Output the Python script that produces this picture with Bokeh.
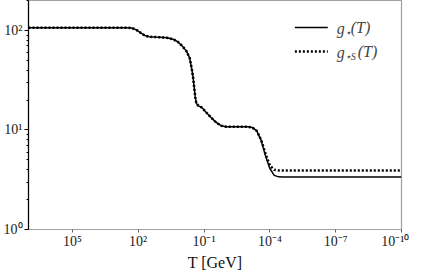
import numpy as np
from bokeh.plotting import figure
from bokeh.models import Range1d, FixedTicker, CustomJSTickFormatter, Label, Title
from bokeh.embed import file_html
from bokeh.resources import INLINE

# ---- data ----
log10_T = [7.0, 3.0, 2.6, 2.3, 2.1, 1.9, 1.7, 1.5, 1.3, 1.0, 0.7, 0.4, 0.2,
           0.0, -0.2, -0.35, -0.45, -0.5, -0.55, -0.6, -0.65, -0.75, -0.9,
           -1.1, -1.3, -1.5, -1.65, -1.8, -2.0, -2.5, -3.0, -3.2, -3.4, -3.6,
           -3.8, -4.0, -4.2, -4.4, -4.6, -10.0]
g_star = [106.75, 106.75, 106.7, 106.0, 102.0, 95.0, 89.0, 86.5, 86.0, 85.5,
          84.5, 81.5, 77.0, 70.0, 62.0, 52.5, 40.0, 34.0, 27.0, 21.5, 18.5,
          17.5, 16.8, 15.0, 13.5, 12.2, 11.5, 11.0, 10.8, 10.75, 10.75, 10.6,
          9.8, 7.9, 5.5, 4.1, 3.5, 3.38, 3.36, 3.36]
g_star_s = [106.75, 106.75, 106.7, 106.0, 102.0, 95.0, 89.0, 86.5, 86.0, 85.5,
            84.5, 81.5, 77.0, 70.0, 62.0, 52.5, 40.0, 34.0, 27.0, 21.5, 18.5,
            17.5, 16.8, 15.0, 13.5, 12.2, 11.5, 11.0, 10.8, 10.75, 10.75, 10.6,
            9.8, 8.0, 5.8, 4.4, 3.98, 3.92, 3.91, 3.91]
x_ticks = [1e5, 1e2, 1e-1, 1e-4, 1e-7, 1e-10]
y_ticks = [1, 10, 100]
y_minor = [2, 3, 4, 5, 6, 7, 8, 9, 20, 30, 40, 50, 60, 70, 80, 90, 200]

T = [10.0 ** v for v in log10_T]

SERIF = "Liberation Serif"

p = figure(width=409, height=270, x_axis_type="log", y_axis_type="log",
           x_range=Range1d(1e7, 1e-10), y_range=Range1d(1, 200),
           output_backend="svg", toolbar_location=None,
           min_border_left=0, min_border_right=8, min_border_top=0,
           min_border_bottom=0)
p.grid.visible = False
p.background_fill_color = "white"
p.outline_line_color = "#a0a0a0"
p.outline_line_width = 1.2

p.line(T, g_star, line_color="black", line_width=1.5)
p.line(T, g_star_s, line_color="black", line_width=2.5, line_dash="2 2")

fmt = CustomJSTickFormatter(code="""
const sup = {'-':'\u207B','0':'\u2070','1':'\u00B9','2':'\u00B2','3':'\u00B3','4':'\u2074',
             '5':'\u2075','6':'\u2076','7':'\u2077','8':'\u2078','9':'\u2079'};
const e = Math.round(Math.log10(tick));
return '10' + String(e).split('').map(c => sup[c]).join('');
""")

xa = p.xaxis[0]
xa.ticker = FixedTicker(ticks=x_ticks, minor_ticks=[])
xa.formatter = fmt
xa.axis_line_color = "#a0a0a0"
xa.major_tick_line_color = "#606060"
xa.major_tick_out = 3
xa.major_tick_in = 0
xa.major_label_standoff = 1
xa.major_label_text_font = SERIF
xa.major_label_text_font_size = "14px"
xa.major_label_text_color = "#222222"

p.add_layout(Title(text="T [GeV]", align="center", text_font=SERIF,
                   text_font_size="16px", text_font_style="normal",
                   text_color="#111111", standoff=0, offset=0,
                   text_line_height=1.0), "below")

ya = p.yaxis[0]
ya.ticker = FixedTicker(ticks=y_ticks, minor_ticks=y_minor)
ya.formatter = fmt
ya.axis_line_color = "black"
ya.axis_line_width = 1.2
ya.major_tick_line_color = "black"
ya.minor_tick_line_color = "black"
ya.major_tick_out = 4
ya.major_tick_in = 0
ya.minor_tick_out = 2
ya.minor_tick_in = 0
ya.major_label_standoff = 2
ya.major_label_text_font = SERIF
ya.major_label_text_font_size = "14px"
ya.major_label_text_color = "#222222"

# legend
leg_x0, leg_x1, leg_tx = 10 ** -5.14, 10 ** -6.64, 10 ** -7.05
leg_y1, leg_y2 = 107, 61.4
p.line([leg_x0, leg_x1], [leg_y1, leg_y1], line_color="black", line_width=1.5)
p.line([leg_x0, leg_x1], [leg_y2, leg_y2], line_color="black", line_width=2.5,
       line_dash="2 2")

def legend_text(y, sub):
    p.add_layout(Label(x=leg_tx, y=y, text="g", text_font=SERIF,
                       text_font_style="italic", text_font_size="16px",
                       text_baseline="middle", y_offset=-1))
    p.add_layout(Label(x=leg_tx, y=y, text=sub, text_font=SERIF,
                       text_font_style="italic", text_font_size="10px",
                       text_baseline="middle", x_offset=8, y_offset=-5))
    off = 8 + (6 if len(sub) == 1 else 13)
    p.add_layout(Label(x=leg_tx, y=y, text="(T)", text_font=SERIF,
                       text_font_style="italic", text_font_size="16px",
                       text_baseline="middle", x_offset=off))

legend_text(leg_y1, "\u22C6")
legend_text(leg_y2, "\u22C6S")

open("out.html", "w").write(file_html(p, INLINE))
